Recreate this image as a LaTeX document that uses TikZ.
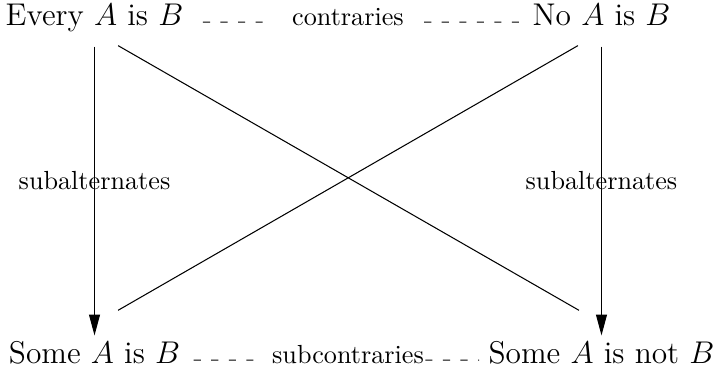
\documentclass[tikz,border=0pt]{standalone}
\usepackage{amsmath}
\usepackage{tikz}
\usetikzlibrary{arrows.meta,calc}
\tikzset{
  prop/.style={font=\large,inner sep=0pt,text height=8.5pt,text depth=2.5pt},
  rel/.style={inner sep=0pt},
  opposite/.style={dash pattern=on 2.7pt off 4pt},
  implies/.style={-{Triangle[length=8pt,width=4.2pt]}}
}

\begin{document}
\begin{tikzpicture}
  \useasboundingbox (0,0) rectangle (9.6,-5.062);
  \node[prop,anchor=base] (every) at (1.269,-0.349) {Every $A$ is $B$};
  \node[prop,anchor=base] (no) at (8.076,-0.349) {No $A$ is $B$};
  \node[prop,anchor=base] (some) at (1.269,-4.887) {Some $A$ is $B$};
  \node[prop,anchor=base] (somenot) at (8.076,-4.887) {Some $A$ is not $B$};
  \node[rel,anchor=base] (contr) at ($(every.base)!0.5!(no.base)$) {contraries};
  \node[rel,anchor=base] (subcontr) at ($(some.base)!0.5!(somenot.base)$) {subcontraries};
  \draw[opposite,shorten <=7.3pt,shorten >=7.6pt] ([yshift=1.5pt]every.base east) -- ([yshift=1.5pt]contr.base west);
  \draw[opposite,shorten <=7.6pt,shorten >=4.2pt] ([yshift=1.5pt]contr.base east) -- ([yshift=1.5pt]no.base west);
  \draw[opposite,shorten <=5pt,shorten >=3.8pt] ([yshift=1.5pt]some.base east) -- ([yshift=1.5pt]subcontr.base west);
  \draw[opposite,shorten <=0.4pt,shorten >=3.4pt] ([yshift=1.5pt]subcontr.base east) -- ([yshift=1.5pt]somenot.base west);
  \draw[implies,shorten <=5.2pt,shorten >=2.2pt] (every) -- (some) node[pos=0.48] {subalternates};
  \draw[implies,shorten <=5.2pt,shorten >=2.2pt] (no) -- (somenot) node[pos=0.48] {subalternates};
  \draw ([xshift=9pt,yshift=-4.8pt]every.south) -- ([xshift=-8.6pt,yshift=11.8pt]somenot.north);
  \draw ([xshift=-9pt,yshift=-4.8pt]no.south) -- ([xshift=9pt,yshift=11.8pt]some.north);
\end{tikzpicture}
\end{document}
